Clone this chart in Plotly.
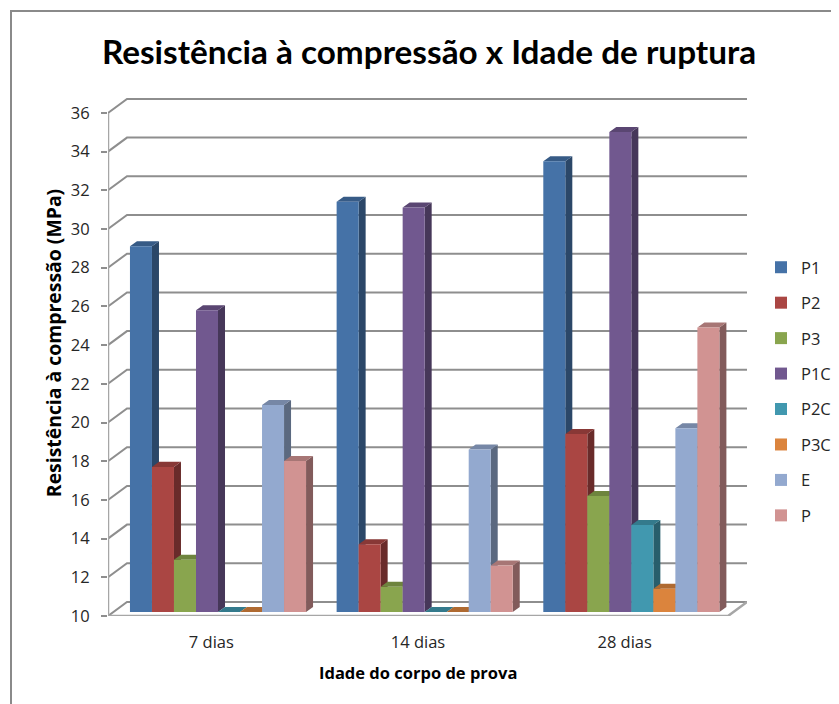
import plotly.graph_objects as go

# Data
categories = ["7 dias", "14 dias", "28 dias"]
series = ["P1", "P2", "P3", "P1C", "P2C", "P3C", "E", "P"]
p1 = [28.9, 31.2, 33.3]
p2 = [17.5, 13.5, 19.2]
p3 = [12.7, 11.3, 16.0]
p1c = [25.6, 30.9, 34.8]
p2c = [10, 10, 14.5]
p3c = [10, 10, 11.2]
e = [20.7, 18.4, 19.5]
p = [17.8, 12.4, 24.7]
colors = ["#4572A7", "#AA4643", "#89A54E", "#71588F", "#4198AF", "#DB843D", "#93A9CF", "#D19392"]
ticks = list(range(10, 38, 2))

# Pixel geometry of the fake 3D box. The page body adds an 8px margin, so figure pixels are page pixels - 8
OFF = 8
W, H = 839 - OFF, 704 - OFF
# top sits above the box so the axis title centres where the reference has it
left, right, top, bottom = 108 - OFF, 747 - OFF, 70 - OFF, 616 - OFF
group_px = 206.67
unit_px = 19.35
depth_x, depth_y = 7 / group_px, 5 / unit_px
front_off, back_off = -4 / unit_px, 10 / unit_px
wall_x = 19 / group_px
x_min, x_max = -0.5, -0.5 + (right - left) / group_px
bar_shift = 6.67 / group_px
bargap = 0.148
bar_w = (1 - bargap) / len(series)
FONT = "Open Sans"
TITLE_FONT = "Lato"
GRID = "#8E8E8E"


def darker(color, k):
    r, g, b = [int(color[i:i + 2], 16) for i in (1, 3, 5)]
    return f"rgb({r * k:.0f},{g * k:.0f},{b * k:.0f})"


fig = go.Figure()

# walls: diagonal and back lines for each tick
grid_x, grid_y = [], []
for t in ticks:
    grid_x += [x_min, x_min + wall_x, x_max, None]
    grid_y += [t + front_off, t + back_off, t + back_off, None]
fig.add_trace(go.Scatter(x=grid_x, y=grid_y, mode="lines", line=dict(color=GRID, width=2),
                         cliponaxis=False, showlegend=False, hoverinfo="skip"))
# front vertical axis and floor edges
floor_right = x_max - wall_x
fig.add_trace(go.Scatter(x=[x_min, x_min, floor_right, x_max],
                         y=[ticks[-1] + front_off, 10 + front_off, 10 + front_off, 10 + back_off],
                         mode="lines", line=dict(color="#A6A6A6", width=2.5),
                         cliponaxis=False, showlegend=False, hoverinfo="skip"))

# side and top faces, under the front faces
all_values = [p1, p2, p3, p1c, p2c, p3c, e, p]
for j, (name, values, color) in enumerate(zip(series, all_values, colors)):
    side_x, side_y, top_x, top_y = [], [], [], []
    for i, v in enumerate(values):
        l = i + bar_shift - (1 - bargap) / 2 + j * bar_w
        r = l + bar_w
        side_x += [r, r + depth_x, r + depth_x, r, r, None]
        side_y += [10, 10 + depth_y, v + depth_y, v, 10, None]
        top_x += [l, l + depth_x, r + depth_x, r, l, None]
        top_y += [v, v + depth_y, v + depth_y, v, v, None]
    fig.add_trace(go.Scatter(x=side_x, y=side_y, mode="lines", fill="toself", fillcolor=darker(color, 0.62),
                             line=dict(width=0), cliponaxis=False, showlegend=False, hoverinfo="skip"))
    fig.add_trace(go.Scatter(x=top_x, y=top_y, mode="lines", fill="toself", fillcolor=darker(color, 0.8),
                             line=dict(width=0), cliponaxis=False, showlegend=False, hoverinfo="skip"))

# front faces on an overlaid axis pair, so they cover the faces of their neighbours
for name, values, color in zip(series, all_values, colors):
    fig.add_trace(go.Bar(x=[i + bar_shift for i in range(len(categories))], y=[v - 10 for v in values], base=10,
                         name=name, legendgroup=name, marker=dict(color=color, line=dict(width=0)),
                         xaxis="x2", yaxis="y2", customdata=values, hovertemplate="%{customdata}<extra>" + name + "</extra>"))

x_dom = [left / W, right / W]
y_dom = [1 - bottom / H, 1 - top / H]
y_low = 10 + front_off
y_range = [y_low, y_low + (bottom - top) / unit_px]
fig.update_layout(
    width=W, height=H, margin=dict(l=0, r=0, t=0, b=0, autoexpand=False),
    paper_bgcolor="white", plot_bgcolor="rgba(0,0,0,0)",
    barmode="group", bargap=bargap, bargroupgap=0,
    font=dict(family=FONT, color="#262626", size=16.5),
    title=dict(text="<b>Resistência à compressão x Idade de ruptura</b>", x=(429 - OFF) / W, xanchor="center",
               y=1 - (52 - OFF) / H, yanchor="middle", font=dict(family=TITLE_FONT, size=33.3, color="black")),
    xaxis=dict(domain=x_dom, range=[x_min, x_max], tickvals=[0, 1, 2], ticktext=categories, ticks="",
               showgrid=False, zeroline=False, showline=False, ticklabelstandoff=14),
    yaxis=dict(domain=y_dom, range=y_range, tickvals=[t + front_off for t in ticks], ticktext=[str(t) for t in ticks],
               ticks="outside", ticklen=6, tickwidth=2, tickcolor=GRID, showgrid=False, zeroline=False,
               showline=False, ticklabelstandoff=8,
               title=dict(text="<b>Resistência à compressão (MPa)</b>", font=dict(size=19.4, color="black"), standoff=4)),
    xaxis2=dict(domain=x_dom, range=[x_min, x_max], overlaying="x", visible=False),
    yaxis2=dict(domain=y_dom, range=y_range, overlaying="y", visible=False),
    legend=dict(x=(761 - OFF) / W, xanchor="left", y=1 - (250 - OFF) / H, yanchor="top", tracegroupgap=11, bgcolor="rgba(0,0,0,0)",
                font=dict(size=16.5), itemclick=False, itemdoubleclick=False),
    annotations=[dict(text="<b>Idade do corpo de prova</b>", xref="paper", yref="paper", x=(417.5 - OFF) / W,
                      y=1 - (672 - OFF) / H, xanchor="center", yanchor="middle", showarrow=False,
                      font=dict(size=16.5, color="black"))],
    shapes=[dict(type="rect", xref="paper", yref="paper", x0=(11 - OFF) / W, x1=1.05, y0=-0.05, y1=1 - (11 - OFF) / H,
                 line=dict(color="#8A8A8A", width=2), layer="below")],
)

fig.write_html("out.html")
